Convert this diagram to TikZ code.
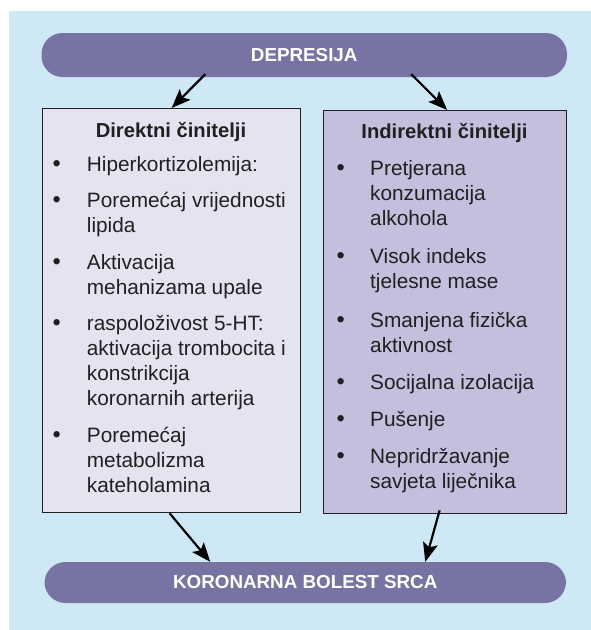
\documentclass[tikz,border=0pt]{standalone}
\usepackage{fontspec}
\setmainfont{Liberation Sans}
\usetikzlibrary{arrows.meta}
\definecolor{bgblue}{HTML}{CFE8F6}
\definecolor{bannerc}{HTML}{7774A4}
\definecolor{lboxc}{HTML}{E4E4F1}
\definecolor{rboxc}{HTML}{C3BFDC}
\definecolor{ink}{HTML}{231F20}
\newcommand\itemlines[1]{\parbox[t]{200pt}{\fontsize{20.8pt}{25pt}\selectfont\raggedright #1}}
\begin{document}
\begin{tikzpicture}[x=1pt,y=-1pt,
  bannerbox/.style={fill=bannerc, rounded corners=21pt, inner sep=0pt, text=white,
    font=\fontsize{18.8pt}{22pt}\selectfont\bfseries},
  colbox/.style={draw=ink, line width=1.3pt, inner sep=0pt, anchor=north west},
  hdr/.style={inner sep=0pt, anchor=base, text=ink, font=\fontsize{20.2pt}{24pt}\selectfont\bfseries},
  bul/.style={inner sep=0pt, anchor=base, text=ink, font=\fontsize{23.5pt}{25pt}\selectfont},
  txt/.style={inner sep=0pt, anchor=base west, text=ink},
  arr/.style={draw=black, line width=2.2pt, -{Stealth[length=19pt, width=15pt, inset=4pt]}}]
\useasboundingbox (0,0) rectangle (591,630);
\fill[bgblue] (9,11) rectangle (591,630);
% banners
\node[bannerbox, minimum width=525.5pt, minimum height=44pt] (dep) at (304.25,55) {DEPRESIJA};
\node[bannerbox, minimum width=521.5pt, minimum height=41pt] (kor) at (305.25,582.5) {KORONARNA BOLEST SRCA};
% boxes
\node[colbox, fill=lboxc, minimum width=258pt, minimum height=404pt] (left) at (42,108) {};
\node[colbox, fill=rboxc, minimum width=243pt, minimum height=403pt] (right) at (323,110) {};
% left column
\node[hdr] (lhead) at (171,137) {Direktni činitelji};
\node[bul] (lb1) at (56.7,171) {•};
\node[txt] (lt1) at (86.7,171) {\itemlines{Hiperkortizolemija:}};
\node[bul] (lb2) at (56.7,207) {•};
\node[txt] (lt2) at (86.7,207) {\itemlines{Poremećaj vrijednosti\\lipida}};
\node[bul] (lb3) at (56.7,269) {•};
\node[txt] (lt3) at (86.7,269) {\itemlines{Aktivacija\\mehanizama upale}};
\node[bul] (lb4) at (56.7,330) {•};
\node[txt] (lt4) at (86.7,330) {\itemlines{raspoloživost 5-HT:\\aktivacija trombocita i\\konstrikcija\\koronarnih arterija}};
\node[bul] (lb5) at (56.7,442) {•};
\node[txt] (lt5) at (86.7,442) {\itemlines{Poremećaj\\metabolizma\\kateholamina}};
% right column
\node[hdr] (rhead) at (444.5,138) {Indirektni činitelji};
\node[bul] (rb1) at (340.7,175) {•};
\node[txt] (rt1) at (370,175) {\itemlines{Pretjerana\\konzumacija\\alkohola}};
\node[bul] (rb2) at (340.7,263) {•};
\node[txt] (rt2) at (370,263) {\itemlines{Visok indeks\\tjelesne mase}};
\node[bul] (rb3) at (340.7,327) {•};
\node[txt] (rt3) at (370,327) {\itemlines{Smanjena fizička\\aktivnost}};
\node[bul] (rb4) at (340.7,389) {•};
\node[txt] (rt4) at (370,389) {\itemlines{Socijalna izolacija}};
\node[bul] (rb5) at (340.7,426) {•};
\node[txt] (rt5) at (370,426) {\itemlines{Pušenje}};
\node[bul] (rb6) at (340.7,463) {•};
\node[txt] (rt6) at (370,463) {\itemlines{Nepridržavanje\\savjeta liječnika}};
% arrows
\draw[arr] ([xshift=-99pt,yshift=3pt]dep.south) -- (left.north);
\draw[arr] ([xshift=107pt,yshift=3pt]dep.south) -- ([xshift=2pt]right.north);
\draw[arr] ([xshift=-2pt]left.south) -- ([xshift=-95pt]kor.north);
\draw[arr] ([xshift=-5.5pt,yshift=4pt]right.south) -- ([xshift=120pt]kor.north);
\end{tikzpicture}
\end{document}
